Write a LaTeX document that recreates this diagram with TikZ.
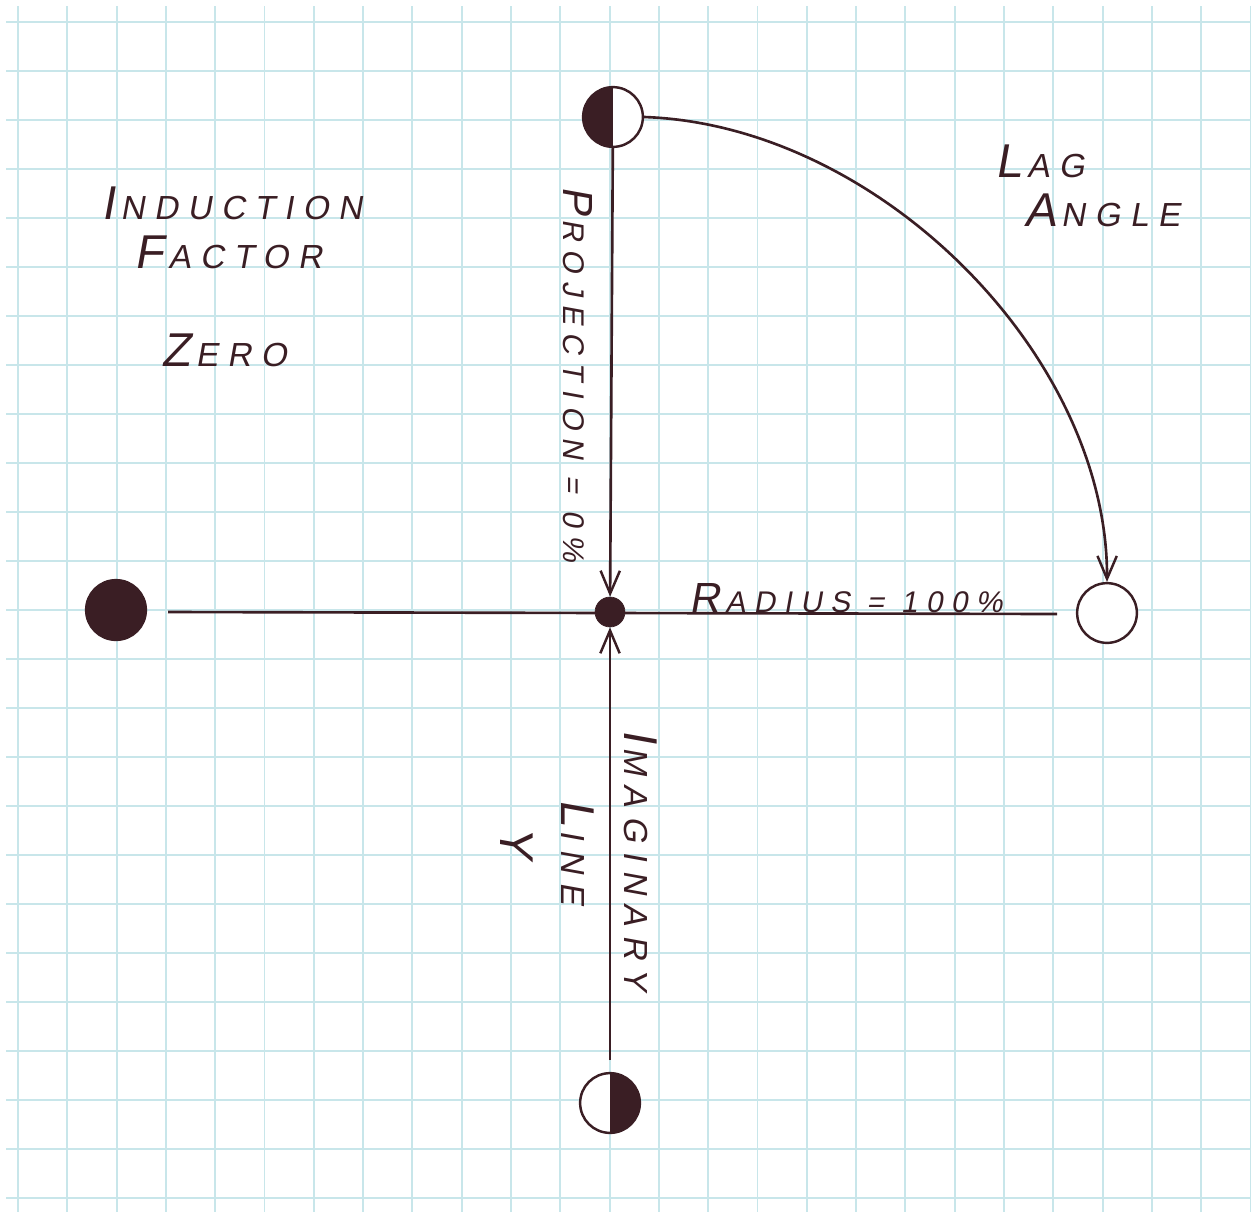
\documentclass[tikz,border=0pt]{standalone}
\usepackage{fontspec}
\usetikzlibrary{arrows.meta}
\newfontfamily\hand[FakeSlant=0.18,LetterSpace=28]{Liberation Sans}
\newcommand\capA{\fontsize{27}{28}\selectfont}
\newcommand\capB{\fontsize{19}{20}\selectfont}
\newcommand\capC{\fontsize{24}{25}\selectfont}
\newcommand\capD{\fontsize{17}{18}\selectfont}
\newcommand\sep{\kern3pt}
\definecolor{ink}{RGB}{58,30,36}
\definecolor{gridblue}{RGB}{200,230,234}
\tikzset{
  ink line/.style={draw=ink, line width=1.5pt},
  arrowed/.style={ink line, -{Straight Barb[length=13pt,width=11pt,line width=1.4pt]}},
  dot/.style={circle, draw=ink, line width=1.4pt, minimum size=34pt, inner sep=0pt},
  solid dot/.style={dot, fill=ink},
  small dot/.style={circle, fill=ink, draw=ink, minimum size=17pt, inner sep=0pt},
  half left/.style={dot, fill=white, path picture={\fill[ink] (path picture bounding box.south) rectangle (path picture bounding box.north west);}},
  half right/.style={dot, fill=white, path picture={\fill[ink] (path picture bounding box.south) rectangle (path picture bounding box.north east);}},
  label/.style={text=ink, font=\hand, inner sep=0pt},
}
\begin{document}
\begin{tikzpicture}[x=0.02cm,y=-0.02cm]
  \useasboundingbox[fill=white] (0,0) rectangle (1257,1218);
  % grid paper
  \foreach \i in {0,...,25} {\draw[gridblue, line width=1.1pt] ({18+49.3*\i},6) -- ({18+49.3*\i},1212);}
  \foreach \j in {0,...,24} {\draw[gridblue, line width=1.1pt] (6,{22+49*\j}) -- (1251,{22+49*\j});}
  % nodes
  \node[half left]  (top)    at (613,117)  {};
  \node[solid dot]  (left)   at (116,610)  {};
  \node[small dot]  (center) at (610,612)  {};
  \node[dot, fill=white] (right) at (1107,613) {};
  \node[half right] (bottom) at (610,1103) {};
  \coordinate (hl) at (168,612);
  \coordinate (hr) at (1057,614);
  \coordinate (bl) at (610,1060);
  % connectors
  \draw[ink line] (hl) -- (hr);
  \draw[arrowed] (top) -- (center);
  \draw[arrowed] (bl) -- (center);
  \draw[arrowed] (top.east) .. controls (879,125) and (1108,356) .. (right.north);
  % labels
  \node[label] (l1) at (232,203) {{\capA I}\sep{\capB NDUCTION}};
  \node[label] (l2) at (228,252) {{\capA F}\sep{\capB ACTOR}};
  \node[label] (l3) at (224,350) {{\capA Z}\sep{\capB ERO}};
  \node[label] (l4) at (1040,161) {{\capA L}\sep{\capB AG}};
  \node[label] (l5) at (1102,210) {{\capA A}\sep{\capB NGLE}};
  \node[label, rotate=-90] (l6) at (578,374) {{\capC P}\sep{\capD ROJECTION = 0\%}};
  \node[label] (l7) at (846,598) {{\capC R}\sep{\capD ADIUS = 100\%}};
  \node[label, rotate=-90] (l8) at (641,860) {{\capA I}\sep{\capB MAGINARY}};
  \node[label, rotate=-90] (l9) at (578,852) {{\capA L}\sep{\capB INE}};
  \node[label, rotate=-90] (l10) at (517,842) {\capA Y};
\end{tikzpicture}
\end{document}
